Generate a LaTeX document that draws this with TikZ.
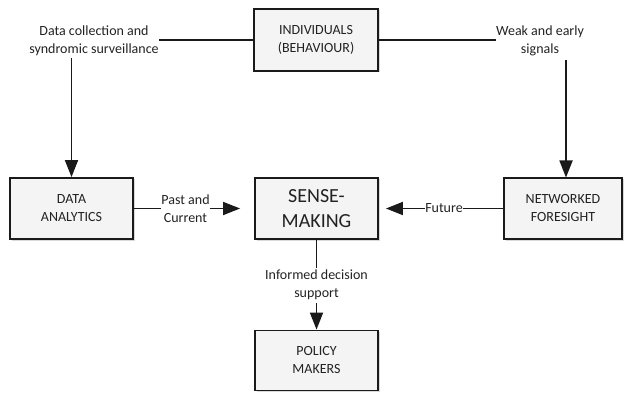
\documentclass[tikz,border=0pt]{standalone}
\usepackage{fontspec}
\setmainfont{Carlito}
\usetikzlibrary{arrows.meta,shadows}
\definecolor{txt}{HTML}{222222}
\definecolor{boxfill}{HTML}{F4F4F4}
\definecolor{edge}{HTML}{1A1A1A}
\tikzset{
  boxnode/.style={draw=edge, line width=1.8pt, fill=boxfill, minimum width=123pt, minimum height=61pt,
    inner sep=0pt, align=center, text=txt, font=\fontsize{14}{18}\selectfont,
    drop shadow={shadow xshift=1.5pt, shadow yshift=-1.5pt, fill=black!25, opacity=0.6}},
  lbl/.style={inner sep=0pt, align=center, text=txt, font=\fontsize{14}{18}\selectfont},
  conn/.style={draw=edge, line width=1.8pt},
  arr/.style={conn, -{Triangle[length=17pt, width=13pt]}}
}
\begin{document}
\begin{tikzpicture}[x=1pt, y=-1pt]
\useasboundingbox (0,0) rectangle (624,393);
\node[boxnode, minimum width=124pt, minimum height=62pt] (ind) at (316,40) {INDIVIDUALS\\(BEHAVIOUR)};
\node[boxnode] (da) at (71.5,208.5) {DATA\\ANALYTICS};
\node[boxnode, font=\fontsize{20}{25}\selectfont] (sm) at (316.5,208.5) {SENSE-\\MAKING};
\node[boxnode, minimum width=118pt] (nf) at (563,208.5) {NETWORKED\\FORESIGHT};
\node[boxnode, minimum height=60pt] (pm) at (316.5,360.5) {POLICY\\MAKERS};

\node[lbl] (l1) at (94,41) {Data collection and\\syndromic surveillance};
\node[lbl] (l2) at (540,41) {Weak and early\\signals};
\node[lbl] (l3) at (185.5,209) {Past and\\Current};
\node[lbl] (l4) at (444,208.5) {Future};
\node[lbl] (l5) at (316.5,285) {Informed decision\\support};

\draw[conn] (ind.west) -- (l1.east |- ind.west);
\draw[conn] (ind.east) -- (l2.west |- ind.east);
\draw[arr] (da.north |- l1.south) ++(0,2) -- (da.north);
\coordinate (nftop) at (566,177.5);
\draw[arr] (566,60) -- (nftop);
\draw[conn] (da.east) -- (l3.west |- da.east);
\draw[arr, shorten >=14pt] (l3.east |- sm.west) -- (sm.west);
\draw[conn] (nf.west) -- (l4.east |- nf.west);
\draw[arr, shorten >=7pt] (l4.west |- sm.east) -- (sm.east);
\draw[conn] (sm.south) -- (316.5,268);
\draw[arr] (316.5,303) -- (pm.north);
\end{tikzpicture}
\end{document}
